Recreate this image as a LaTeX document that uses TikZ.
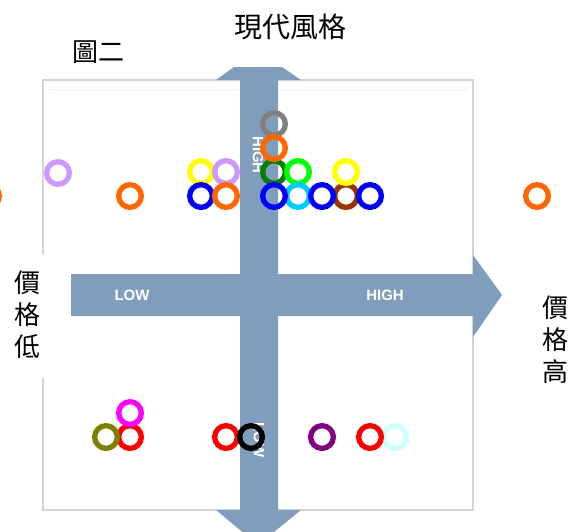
\documentclass[tikz,border=0pt]{standalone}
\usepackage{fontspec}
\usepackage{xcolor}
\usepackage{tikz}
\usetikzlibrary{arrows.meta, calc}
\newfontfamily\cjk{Noto Sans CJK TC}
\newfontfamily\arialfont{Liberation Sans}
\definecolor{axisBlue}{RGB}{128,157,187}
\definecolor{frameGray}{RGB}{212,212,212}
\definecolor{ringGray}{RGB}{128,128,128}
\definecolor{ringOrange}{RGB}{255,102,0}
\definecolor{ringDarkGreen}{RGB}{0,128,0}
\definecolor{ringGreen}{RGB}{0,255,0}
\definecolor{ringYellow}{RGB}{255,255,0}
\definecolor{ringLavender}{RGB}{204,153,255}
\definecolor{ringBlue}{RGB}{0,0,255}
\definecolor{ringCyan}{RGB}{0,204,255}
\definecolor{ringBrown}{RGB}{153,51,0}
\definecolor{ringMagenta}{RGB}{255,0,255}
\definecolor{ringOlive}{RGB}{128,128,0}
\definecolor{ringRed}{RGB}{255,0,0}
\definecolor{ringPurple}{RGB}{128,0,128}
\definecolor{ringLightCyan}{RGB}{204,255,255}
\tikzset{ring/.style={circle, draw=#1, line width=5.3pt, minimum size=22.7pt, inner sep=0pt}}
\tikzset{axislbl/.style={text=white, font=\fontsize{15}{18}\selectfont\arialfont\bfseries, inner sep=0pt}}
\tikzset{cjklbl/.style={font=\fontsize{26}{32}\selectfont\cjk, inner sep=0pt, align=center}}

\begin{document}
\begin{tikzpicture}[x=1pt, y=-1pt]
  \useasboundingbox[fill=white] (0,0) rectangle (572,531);
  % frame
  \draw[frameGray, line width=1.5pt] (43,80) rectangle (473,510);
  \draw[frameGray!40, line width=1pt] (50,89) -- (467,89);
  \fill[white] (0,255) rectangle (68,378);
  % axes
  \fill[axisBlue] (71,274) -- (473,274) -- (473,255) -- (502,295) -- (473,337) -- (473,316) -- (71,316) -- cycle;
  \fill[axisBlue] (240,80) -- (216,80) -- (234,67) -- (282,67) -- (301,80) -- (278,80) -- (278,510) -- (301,510) -- (258,545) -- (216,510) -- (240,510) -- cycle;
  \node[axislbl] (xlow) at (132,295) {LOW};
  \node[axislbl] (xhigh) at (385,295) {HIGH};
  \node[axislbl, rotate=-90] (yhigh) at (258,155) {HIGH};
  \node[axislbl, rotate=-90] (ylow) at (259,440) {LOW};

  % texts
  \node[font=\fontsize{28}{30}\selectfont\cjk, inner sep=0pt] (title) at (290,27) {現代風格};
  \node[font=\fontsize{26}{30}\selectfont\cjk, inner sep=0pt] (figno) at (98,52) {圖二};
  \node[cjklbl] (pricelow) at (27,315) {價\\格\\低};
  \node[cjklbl] (pricehigh) at (555,340) {價\\格\\高};

  % top group
  \node[ring=ringGray] (t1) at (274,124) {};
  \node[ring=ringDarkGreen] (t2) at (274,172) {};
  \node[ring=ringOrange] (t3) at (274,148) {};
  \node[ring=ringGreen] (t4) at (298,172) {};
  \node[ring=ringYellow] (t5) at (201,172) {};
  \node[ring=ringLavender] (t6) at (226,172) {};
  \node[ring=ringBlue] (t7) at (201,196) {};
  \node[ring=ringOrange] (t8) at (226,196) {};
  \node[ring=ringCyan] (t9) at (298,196) {};
  \node[ring=ringBrown] (t10) at (346,196) {};
  \node[ring=ringYellow] (t11) at (346,172) {};
  \node[ring=ringBlue] (t12) at (274,196) {};
  \node[ring=ringBlue] (t13) at (322,196) {};
  \node[ring=ringBlue] (t14) at (370,196) {};
  \node[ring=ringLavender] (t15) at (58,173) {};
  \node[ring=ringOrange] (t16) at (130,196) {};
  \node[ring=ringOrange] (t17) at (537,196) {};
  \node[ring=ringOrange] (t18) at (-12,196) {};

  % bottom group
  \node[ring=ringRed] (b1) at (130,437) {};
  \node[ring=ringOlive] (b2) at (106,437) {};
  \node[ring=ringMagenta] (b3) at (130,413) {};
  \node[ring=ringRed] (b4) at (226,437) {};
  \node[ring=black] (b5) at (251,437) {};
  \node[ring=ringPurple] (b6) at (322,437) {};
  \node[ring=ringLightCyan] (b7) at (395,437) {};
  \node[ring=ringRed] (b8) at (370,437) {};

\end{tikzpicture}
\end{document}
